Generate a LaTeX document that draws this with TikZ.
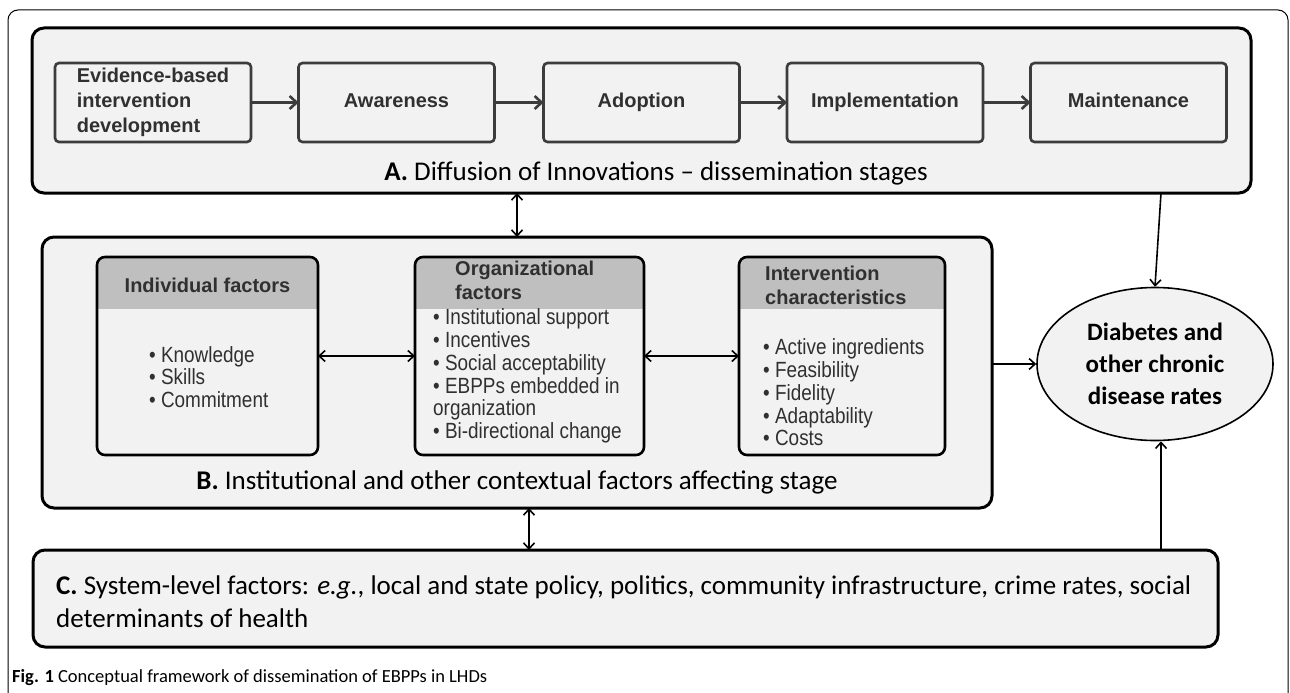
\documentclass[tikz,border=0pt]{standalone}
\usepackage{fontspec}
\setmainfont{Carlito}
\newfontfamily\arialfont{Liberation Sans}
\newfontfamily\narrowfont{Liberation Sans}[FakeStretch=0.86]
\usetikzlibrary{calc,arrows.meta,shapes.geometric}

\definecolor{boxfill}{HTML}{F2F2F2}
\definecolor{headgray}{HTML}{BFBFBF}
\definecolor{stroke}{HTML}{3C3C3C}
\definecolor{txtgray}{HTML}{303030}

\newcommand\stagefont{\arialfont\bfseries\fontsize{20}{25}\selectfont}
\newcommand\headfont{\arialfont\bfseries\fontsize{20}{24}\selectfont}
\newcommand\listfont{\narrowfont\fontsize{22}{22.7}\selectfont}
\newcommand\labfont{\fontsize{27}{33}\selectfont}
\newcommand\ellfont{\bfseries\fontsize{25}{32}\selectfont}
\newcommand\capfont{\fontsize{18.5}{20}\selectfont}

\begin{document}
\begin{tikzpicture}[x=1pt,y=-1pt,
  panel/.style={draw=black,line width=3pt,fill=boxfill,rounded corners=12pt,inner sep=0pt,outer sep=0pt},
  stagebox/.style={draw=stroke,line width=2.6pt,fill=boxfill,rounded corners=4pt,minimum width=196pt,minimum height=79pt,inner sep=0pt,outer sep=0pt,font=\stagefont,text=txtgray,align=left},
  oneline/.style={align=center,text height=14.5pt,text depth=4pt},
  factorbox/.style={fill=boxfill,minimum height=198pt,inner sep=0pt,outer sep=0pt},
  headtext/.style={font=\headfont,text=txtgray,align=left,inner sep=0pt},
  bullets/.style={font=\listfont,text=txtgray,align=left,inner sep=0pt,anchor=west},
  stagearrow/.style={draw=stroke,line width=2.6pt,-{Straight Barb[length=7pt,width=13pt]}},
  link/.style={line width=1.6pt,-{Straight Barb[length=6pt,width=11pt]}},
  twoway/.style={line width=1.6pt,{Straight Barb[length=6pt,width=11pt]}-{Straight Barb[length=6pt,width=11pt]}}]
   \useasboundingbox (0,0) rectangle (1290,693);

   % frame round the figure
   \draw[stroke,line width=1pt,rounded corners=10pt] (8,693) -- (8,10) -- (1288,10) -- (1288,693);

   % A. stages
   \node[panel,minimum width=1219pt,minimum height=165pt] (A) at (641.5,110.5) {};
   \node[stagebox] (dev) at (153,102.5) {Evidence-based\\intervention\\development};
   \node[stagebox,oneline] (aware) at (396.5,102.5) {Awareness};
   \node[stagebox,oneline] (adopt) at (641.5,102.5) {Adoption};
   \node[stagebox,oneline] (impl) at (885,102.5) {Implementation};
   \node[stagebox,oneline] (maint) at (1128.5,102.5) {Maintenance};
   \draw[stagearrow] (dev) -- (aware);
   \draw[stagearrow] (aware) -- (adopt);
   \draw[stagearrow] (adopt) -- (impl);
   \draw[stagearrow] (impl) -- (maint);
   \node[font=\labfont] (labA) at (656,173) {\textbf{A.} Diffusion of Innovations -- dissemination stages};

   % B. contextual factors
   \node[panel,minimum width=950pt,minimum height=271pt] (B) at (517,372.5) {};
   \node[factorbox,minimum width=221pt] (ind) at (207.5,356) {};
   \node[factorbox,minimum width=229pt] (org) at (529.5,356) {};
   \node[factorbox,minimum width=206pt] (int) at (842,356) {};
   \foreach \b in {ind,org,int}{
     \begin{scope}
       \clip[rounded corners=8pt] (\b.north west) rectangle (\b.south east);
       \fill[headgray] (\b.north west) rectangle ($(\b.north east)+(0,52)$);
     \end{scope}
     \draw[stroke,line width=2.6pt,rounded corners=8pt] (\b.north west) rectangle (\b.south east);
   }
   \node[headtext] (indhead) at (207.5,285) {Individual factors};
   \node[headtext,anchor=west] (orghead) at (455,280) {Organizational\\factors};
   \node[headtext,anchor=west] (inthead) at (765,285.5) {Intervention\\characteristics};
   \node[bullets] (indlist) at (149,377) {\textbullet\ Knowledge\\\textbullet\ Skills\\\textbullet\ Commitment};
   \node[bullets] (orglist) at (433,376) {\textbullet\ Institutional support\\\textbullet\ Incentives\\\textbullet\ Social acceptability\\\textbullet\ EBPPs embedded in\\organization\\\textbullet\ Bi-directional change};
   \node[bullets] (intlist) at (763,392.5) {\textbullet\ Active ingredients\\\textbullet\ Feasibility\\\textbullet\ Fidelity\\\textbullet\ Adaptability\\\textbullet\ Costs};
   \draw[twoway] (ind) -- (org);
   \draw[twoway] (org) -- (int);
   \node[font=\labfont] (labB) at (517,482) {\textbf{B.} Institutional and other contextual factors affecting stage};

   % C. system level
   \node[panel,minimum width=1185pt,minimum height=97pt] (C) at (625.5,598.5) {};
   \node[font=\labfont,align=left,anchor=west,inner sep=0pt] (labC) at (56,601.5) {\textbf{C.} System-level factors: \textit{e.g.}, local and state policy, politics, community infrastructure, crime rates, social\\determinants of health};

   % outcome
   \node[draw=black,line width=1.6pt,fill=boxfill,ellipse,minimum width=236pt,minimum height=153pt,inner sep=0pt,font=\ellfont,align=center] (ell) at (1155,364) {Diabetes and\\other chronic\\disease rates};

   \draw[twoway] (A.south -| B.north) -- (B.north);
   \draw[twoway] ([xshift=12pt]B.south) -- ([xshift=12pt]B.south |- C.north);
   \draw[link] ([xshift=6pt]A.south -| ell.north) -- (ell.north);
   \draw[link] (B.east |- ell.west) -- (ell.west);
   \draw[link] ([xshift=6pt]C.north -| ell.south) -- ([xshift=6pt]ell.south);

   \node[font=\capfont,anchor=west,inner sep=0pt] (cap) at (12,678) {\textbf{Fig. 1} Conceptual framework of dissemination of EBPPs in LHDs};
\end{tikzpicture}
\end{document}
